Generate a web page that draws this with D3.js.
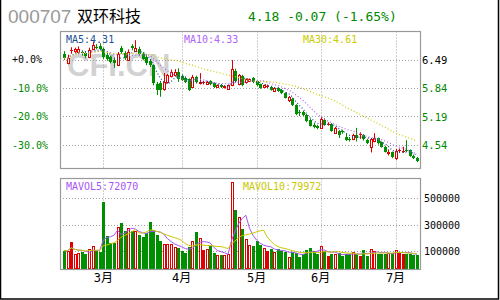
<!DOCTYPE html>
<html><head><meta charset="utf-8">
<script src="https://cdn.jsdelivr.net/npm/d3@7"></script>
<style>body{margin:0;background:#fff}svg{display:block}</style>
</head><body>
<script>
// ---- data ----
const openP = [6.62,6.41,6.69,6.68,6.66,6.66,6.64,6.55,6.74,6.78, 6.80,6.73,6.60,6.55,6.48,6.37,6.75,6.64,6.49,6.80,
 6.69,6.74,6.62,6.55,6.45,6.36,5.92,5.95,5.82,5.98, 6.12,6.14,6.20,6.12,6.06,6.04,5.87,6.10,5.95,5.95,
 5.94,6.00,5.95,5.87,5.91,5.86,5.82,5.90,6.22,5.92, 6.12,5.97,6.01,6.07,5.99,5.92,5.87,5.86,5.87,5.78,
 5.84,5.80,5.72,5.57,5.60,5.45,5.30,5.30,5.23,5.12, 4.99,4.98,4.93,5.12,5.01,5.02,4.82,4.85,4.86,4.72,
 4.67,4.67,4.77,4.79,4.77,4.66,4.50,4.62,4.69,4.60, 4.50,4.36,4.37,4.25,4.40,4.38,4.42,4.42,4.30,4.25];
const highP = [6.68,6.60,6.77,6.76,6.79,6.70,6.68,6.76,6.90,6.84, 6.86,6.76,6.64,6.58,6.52,6.66,6.80,6.68,6.72,6.84,
 6.93,6.78,6.66,6.58,6.50,6.38,5.98,6.00,6.18,6.16, 6.26,6.27,6.29,6.15,6.10,6.06,6.14,6.12,6.18,6.00,
 6.00,6.02,5.97,5.92,5.93,5.90,5.92,6.48,6.28,6.16, 6.14,6.06,6.06,6.09,6.01,5.94,5.92,5.92,5.89,5.86,
 5.86,5.82,5.74,5.66,5.62,5.47,5.34,5.32,5.25,5.14, 5.05,5.00,5.18,5.15,5.06,5.04,4.95,4.88,4.88,4.81,
 4.72,4.80,4.93,4.83,4.79,4.68,4.70,4.81,4.71,4.62, 4.52,4.44,4.39,4.45,4.46,4.50,4.65,4.44,4.32,4.27];
const lowP = [6.48,6.38,6.62,6.64,6.62,6.58,6.52,6.52,6.70,6.72, 6.70,6.50,6.46,6.40,6.30,6.34,6.62,6.48,6.46,6.70,
 6.66,6.58,6.48,6.36,6.32,5.90,5.68,5.64,5.78,5.94, 6.08,6.10,5.98,6.00,5.95,5.77,5.84,5.94,5.92,5.92,
 5.92,5.90,5.84,5.84,5.84,5.83,5.80,5.88,5.96,5.90, 5.88,5.94,5.98,5.95,5.88,5.82,5.84,5.84,5.78,5.76,
 5.75,5.70,5.60,5.52,5.43,5.22,5.20,5.20,5.06,4.96, 4.92,4.90,4.91,4.98,4.98,4.84,4.80,4.70,4.80,4.63,
 4.62,4.65,4.62,4.68,4.64,4.56,4.37,4.60,4.55,4.48, 4.37,4.30,4.24,4.20,4.36,4.36,4.38,4.27,4.22,4.15];
const closeP = [6.52,6.52,6.71,6.72,6.74,6.63,6.56,6.70,6.81,6.76, 6.74,6.55,6.50,6.44,6.42,6.61,6.65,6.52,6.67,6.75,
 6.76,6.62,6.51,6.40,6.36,5.96,5.80,5.80,5.98,6.13, 6.20,6.21,6.04,6.03,5.98,5.80,6.10,5.97,5.98,5.97,
 5.98,5.94,5.87,5.90,5.86,5.89,5.90,6.27,6.00,6.13, 5.91,6.04,6.04,5.97,5.91,5.85,5.90,5.88,5.80,5.83,
 5.77,5.72,5.62,5.64,5.45,5.24,5.27,5.23,5.09,4.98, 4.96,4.93,5.14,5.00,5.03,4.86,4.92,4.76,4.83,4.65,
 4.66,4.77,4.70,4.80,4.67,4.59,4.67,4.69,4.58,4.50, 4.39,4.39,4.26,4.40,4.42,4.40,4.40,4.29,4.25,4.18];
const volume = [100000,100000,166000,75000,82000,90000,75000,113000,134000,100000,
 90000,472000,210000,159000,159000,279000,311000,248000,273000,248000,
 248000,218000,202000,235000,319000,260000,222000,176000,151000,151000,
 151000,128000,120000,100000,82000,126000,172000,243000,197000,108000,
 113000,134000,82000,70000,66000,70000,74000,624000,413000,355000,
 268000,192000,141000,134000,172000,146000,121000,98000,113000,87000,
 110000,98000,90000,54000,92000,80000,52000,75000,108000,121000,
 98000,75000,134000,98000,62000,75000,75000,82000,57000,75000,
 75000,90000,75000,57000,108000,57000,113000,100000,75000,75000,
 75000,80000,80000,108000,90000,75000,75000,75000,70000,65000];
const monthLabels = ["3月","4月","5月","6月","7月"];
const monthStartIdx = [11,33,54,72,93];
const priceTicks = [6.49,5.84,5.19,4.54];
const pctLabels = ["+0.0%","-10.0%","-20.0%","-30.0%"];
const volTicks = [500000,300000,100000];
const volTickLabels = ["500000","300000","100000"];
const stockCode = "000707", stockName = "双环科技";
const quoteText = "4.18 -0.07 (-1.65%)";
const maLegend = ["MA5:4.31","MA10:4.33","MA30:4.61"];
const volLegend = ["MAVOL5:72070","MAVOL10:79972"];

// ---- drawing ----
const W=500,H=300;
const RED="#e00000", GREEN="#008f00", GRID="#a0a0a0", FRAME="#999";
const C_MA5="#1c4f96", C_MA10="#b066f5", C_MA30="#cccc00";
const mono="'DejaVu Sans Mono','Liberation Mono',monospace";
const svg=d3.select("body").append("svg").attr("width",W).attr("height",H);

const main={l:60,r:420,t:31.5,b:168.5};
const vol={l:60,r:420,t:178.5,b:269.5};
const N=closeP.length;
const x=d3.scaleLinear().domain([0,N-1]).range([64.1,416.9]);
const y=d3.scaleLinear().domain([4.54,6.49]).range([145,59.5]);
const yv=d3.scaleLinear().domain([100000,500000]).range([250.7,198.3]);

function ma(arr,n){return arr.map((v,i)=>{const s=arr.slice(Math.max(0,i-n+1),i+1);return d3.mean(s);});}

// outer frame
svg.append("path").attr("d",`M0.5,0 V299 H498.5 V0`).attr("fill","none").attr("stroke","#000").attr("stroke-width",1.5);

// title
svg.append("text").attr("x",8).attr("y",23).attr("font-family","'Liberation Sans',Arial,sans-serif").attr("font-size",19).attr("fill","#999").text(stockCode);
svg.append("text").attr("x",77).attr("y",21.5).attr("font-family","'Noto Sans CJK SC',sans-serif").attr("font-size",16).attr("fill","#000").text(stockName);
svg.append("text").attr("x",248).attr("y",21).attr("font-family",mono).attr("font-size",13).attr("fill","#008800").text(quoteText);

// watermark
svg.append("text").attr("x",67).attr("y",75.5).attr("font-family","'Liberation Sans',Arial,sans-serif").attr("font-weight","bold").attr("font-size",31).attr("fill","#d2d2d2").text("CFI.CN");

// grids
function grid(p, ys){
  const g=svg.append("g").attr("stroke",GRID).attr("stroke-dasharray","1,2").attr("stroke-width",1);
  ys.forEach(v=>g.append("line").attr("x1",p.l).attr("x2",p.r).attr("y1",Math.round(v)+0.5).attr("y2",Math.round(v)+0.5));
  monthStartIdx.forEach(i=>{const xx=Math.round(x(i))+0.5;g.append("line").attr("x1",xx).attr("x2",xx).attr("y1",p.t).attr("y2",p.b);});
}
grid(main, priceTicks.map(y));
grid(vol, volTicks.map(yv));

// main labels
priceTicks.forEach((p,i)=>{
  svg.append("text").attr("x",12).attr("y",y(p)+3.5).attr("font-family",mono).attr("font-size",10).attr("fill",i===0?"#000":"#008800").text(pctLabels[i]);
  svg.append("text").attr("x",422).attr("y",y(p)+4).attr("font-family",mono).attr("font-size",10.5).attr("fill",i===0?"#000":"#008800").text(p.toFixed(2));
});
volTicks.forEach((v,i)=>{
  svg.append("text").attr("x",424).attr("y",yv(v)+4).attr("font-family",mono).attr("font-size",10).attr("fill","#000").text(volTickLabels[i]);
});
monthStartIdx.forEach((idx,i)=>{
  svg.append("text").attr("x",x(idx)).attr("y",282).attr("text-anchor","middle").attr("font-family",mono+",'Noto Sans CJK SC'").attr("font-size",12).attr("fill","#000").text(monthLabels[i]);
});

// candles
const cg=svg.append("g");
for(let i=0;i<N;i++){
  const px=Math.round(x(i)), o=openP[i], c=closeP[i];
  const up=c>=o, flat=up && (c-o)<0.025;
  const yt=Math.round(y(Math.max(o,c))), yb=Math.round(y(Math.min(o,c)));
  const col=up?RED:GREEN;
  if(up && !flat){
    cg.append("line").attr("x1",px+0.5).attr("x2",px+0.5).attr("y1",y(highP[i])).attr("y2",yt).attr("stroke",col);
    cg.append("line").attr("x1",px+0.5).attr("x2",px+0.5).attr("y1",yb).attr("y2",y(lowP[i])).attr("stroke",col);
    cg.append("rect").attr("x",px-0.5).attr("y",yt+0.5).attr("width",2).attr("height",Math.max(1,yb-yt)).attr("fill","#fff").attr("stroke",col);
  } else {
    cg.append("line").attr("x1",px+0.5).attr("x2",px+0.5).attr("y1",y(highP[i])).attr("y2",y(lowP[i])).attr("stroke",col);
    cg.append("rect").attr("x",px-1).attr("y",yt).attr("width",3).attr("height",Math.max(1,yb-yt)).attr("fill",col);
  }
}

// MA lines (dotted)
const closeMA=[[ma(closeP,5),C_MA5],[ma(closeP,10),C_MA10],[ma(closeP,30),C_MA30]];
const lineP=d3.line().x((d,i)=>x(i)).y(d=>y(d));
closeMA.forEach(([arr,col])=>{
  svg.append("path").attr("d",lineP(arr)).attr("fill","none").attr("stroke",col).attr("stroke-width",1.2).attr("stroke-dasharray","1,2.2");
});

// main legend
svg.append("text").attr("x",66).attr("y",42.5).attr("font-family",mono).attr("font-size",10).attr("fill",C_MA5).text(maLegend[0]);
svg.append("text").attr("x",184).attr("y",42.5).attr("font-family",mono).attr("font-size",10).attr("fill",C_MA10).text(maLegend[1]);
svg.append("text").attr("x",303).attr("y",42.5).attr("font-family",mono).attr("font-size",10).attr("fill",C_MA30).text(maLegend[2]);

// volume bars
const vg=svg.append("g");
const vbase=269;
for(let i=0;i<N;i++){
  const px=Math.round(x(i)), o=openP[i], c=closeP[i];
  const up=c>=o, flat=up && (c-o)<0.025;
  const top=Math.round(yv(volume[i]));
  if(up && !flat){
    vg.append("rect").attr("x",px-0.5).attr("y",top+0.5).attr("width",2).attr("height",vbase-top-1).attr("fill","#fff").attr("stroke",RED);
  } else {
    vg.append("rect").attr("x",px-1).attr("y",top).attr("width",3).attr("height",vbase-top).attr("fill",up?RED:GREEN);
  }
}
const lineV=d3.line().x((d,i)=>x(i)).y(d=>yv(d));
svg.append("path").attr("d",lineV(ma(volume,5))).attr("fill","none").attr("stroke","#a855f7").attr("stroke-width",1);
svg.append("path").attr("d",lineV(ma(volume,10))).attr("fill","none").attr("stroke","#c8c800").attr("stroke-width",1);
svg.append("text").attr("x",66).attr("y",190).attr("font-family",mono).attr("font-size",10).attr("fill","#a855f7").text(volLegend[0]);
svg.append("text").attr("x",243).attr("y",190).attr("font-family",mono).attr("font-size",10).attr("fill","#c8c800").text(volLegend[1]);

// panel frames
[main,vol].forEach(p=>svg.append("rect").attr("x",p.l+0.5).attr("y",p.t).attr("width",p.r-p.l).attr("height",p.b-p.t).attr("fill","none").attr("stroke",FRAME).attr("stroke-width",1.2));
</script>
</body></html>
